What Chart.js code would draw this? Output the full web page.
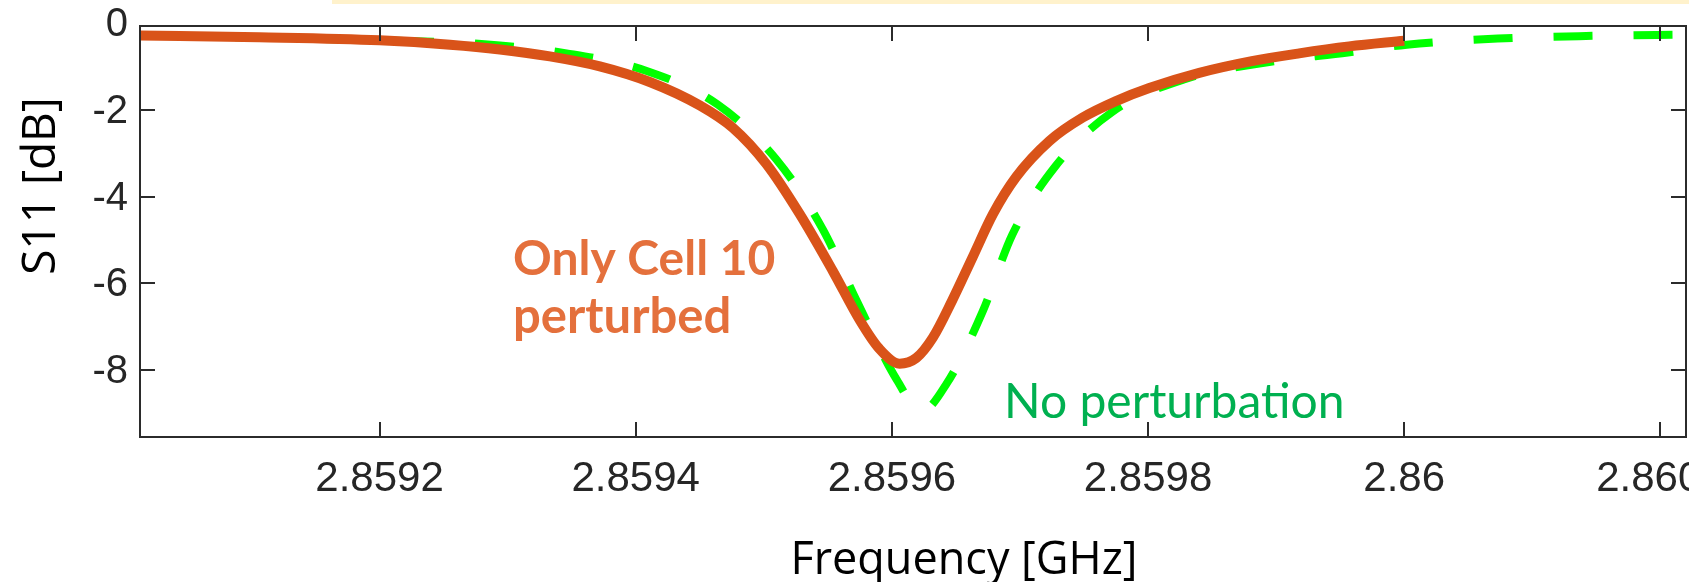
<!DOCTYPE html>
<html>
<head>
<meta charset="utf-8">
<script src="https://cdn.jsdelivr.net/npm/chart.js@4.4.0/dist/chart.umd.min.js"></script>
<style>
  html, body { margin: 0; padding: 0; background: #fff; }
  #wrap { width: 1689px; height: 582px; }
</style>
</head>
<body>
<div id="wrap"><canvas id="chart" width="1689" height="582"></canvas></div>
<script>
// S11 of the resonance, frequency in GHz, S11 in dB
const freqCell10 = [
    2.859013, 2.859106, 2.8592, 2.859255, 2.859294, 2.859333, 2.859372, 2.859411,
    2.85945, 2.859476, 2.859502, 2.859528, 2.859554, 2.859575, 2.85959, 2.859606,
    2.859619, 2.859632, 2.859647, 2.859663, 2.859679, 2.859697, 2.859723, 2.859749,
    2.859775, 2.859801, 2.85984, 2.859881, 2.859918, 2.859957, 2.86
];
const s11Cell10 = [
    -0.29, -0.33, -0.40, -0.50, -0.61, -0.77, -1.00, -1.36,
    -1.90, -2.42, -3.25, -4.40, -5.72, -6.85, -7.50, -7.85,
    -7.72, -7.25, -6.40, -5.40, -4.40, -3.55, -2.72, -2.18,
    -1.80, -1.50, -1.15, -0.88, -0.70, -0.54, -0.41
];

const freqNoPert = [
    2.859013, 2.8592, 2.859282, 2.859346, 2.859408, 2.859464, 2.85951, 2.859546,
    2.859573, 2.859604, 2.859623, 2.859643, 2.859671, 2.859694, 2.859728, 2.859772,
    2.859828, 2.859892, 2.859956, 2.860002, 2.860073, 2.860142, 2.86022
];
const s11NoPert = [
    -0.29, -0.40, -0.49, -0.70, -1.10, -1.88, -3.15, -4.75,
    -6.43, -8.23, -8.95, -8.30, -6.64, -4.88, -3.29, -2.05,
    -1.30, -0.91, -0.68, -0.50, -0.36, -0.30, -0.27
];

const xTickValues = [2.8592, 2.8594, 2.8596, 2.8598, 2.86, 2.8602];
const xTickLabels = ['2.8592', '2.8594', '2.8596', '2.8598', '2.86', '2.8602'];
const yTickValues = [-8, -6, -4, -2, 0];
const yTickLabels = ['-8', '-6', '-4', '-2', '0'];

const xRange = [2.859013, 2.86022];
const yRange = [-9.54, -0.07];

const AXIS_COLOR = '#2b2b2b';
const TICK_LEN = 15;

const decor = {
    id: 'decor',
    beforeDraw(chart) {
        const ctx = chart.ctx;
        ctx.save();
        ctx.fillStyle = '#ffffff';
        ctx.fillRect(0, 0, chart.width, chart.height);
        // pale band along the top edge
        ctx.fillStyle = '#FFF2CC';
        ctx.fillRect(332, 0, chart.width - 332, 4);
        ctx.restore();
    },
    afterDraw(chart) {
        const { ctx, chartArea: a, scales: { x, y } } = chart;
        ctx.save();

        // box + inward ticks, matlab style
        ctx.strokeStyle = AXIS_COLOR;
        ctx.lineWidth = 2;
        ctx.strokeRect(a.left, a.top, a.right - a.left, a.bottom - a.top);
        ctx.beginPath();
        xTickValues.forEach(v => {
            const px = Math.round(x.getPixelForValue(v));
            ctx.moveTo(px, a.bottom);
            ctx.lineTo(px, a.bottom - TICK_LEN);
            ctx.moveTo(px, a.top);
            ctx.lineTo(px, a.top + TICK_LEN);
        });
        yTickValues.forEach(v => {
            const py = Math.round(y.getPixelForValue(v));
            if (py < a.top || py > a.bottom) return;
            ctx.moveTo(a.left, py);
            ctx.lineTo(a.left + TICK_LEN, py);
            ctx.moveTo(a.right, py);
            ctx.lineTo(a.right - TICK_LEN, py);
        });
        ctx.stroke();

        // axis titles
        ctx.fillStyle = '#000000';
        ctx.font = '45px "Open Sans"';
        ctx.textAlign = 'center';
        ctx.textBaseline = 'alphabetic';
        ctx.fillText('Frequency [GHz]', 964, 574);

        ctx.save();
        ctx.translate(55, 186);
        ctx.rotate(-Math.PI / 2);
        ctx.font = '46px "Open Sans"';
        ctx.fillText('S11 [dB]', 0, 0);
        ctx.restore();

        // curve labels
        ctx.textAlign = 'left';
        ctx.font = 'bold 48px Lato';
        ctx.fillStyle = '#E4703C';
        ctx.fillText('Only Cell 10', 513, 275);
        ctx.font = 'bold 49px Lato';
        ctx.fillText('perturbed', 513, 333);

        ctx.font = '48px Lato';
        ctx.fillStyle = '#00B050';
        ctx.fillText('No perturbation', 1004, 418);

        ctx.restore();
    }
};

window.onload = function () {
    const ctx = document.getElementById('chart').getContext('2d');
    new Chart(ctx, {
        type: 'line',
        data: {
            datasets: [
                {
                    label: 'Only Cell 10 perturbed',
                    data: freqCell10.map((f, i) => ({ x: f, y: s11Cell10[i] })),
                    borderColor: '#D95319',
                    borderWidth: 10,
                    pointRadius: 0,
                    cubicInterpolationMode: 'monotone',
                    fill: false,
                },
                {
                    label: 'No perturbation',
                    data: freqNoPert.map((f, i) => ({ x: f, y: s11NoPert[i] })),
                    borderColor: '#00FF00',
                    borderWidth: 8,
                    borderDash: [39, 41],
                    borderDashOffset: -15,
                    pointRadius: 0,
                    cubicInterpolationMode: 'monotone',
                    fill: false,
                },
            ],
        },
        options: {
            responsive: false,
            animation: false,
            devicePixelRatio: 1,
            layout: { padding: { top: 26, right: 3, left: 0, bottom: 0 } },
            plugins: {
                legend: { display: false },
                tooltip: { enabled: false },
            },
            scales: {
                x: {
                    type: 'linear',
                    min: xRange[0],
                    max: xRange[1],
                    grid: { display: false, drawTicks: false },
                    border: { display: false },
                    afterBuildTicks: (scale) => {
                        scale.ticks = xTickValues.map(v => ({ value: v }));
                    },
                    afterFit: (scale) => {
                        scale.height = 145;
                        scale.paddingLeft = 0;
                        scale.paddingRight = 0;
                    },
                    ticks: {
                        autoSkip: false,
                        maxRotation: 0,
                        padding: 17,
                        color: '#262626',
                        font: { family: '"Liberation Sans"', size: 42 },
                        callback: (v, i) => xTickLabels[i],
                    },
                },
                y: {
                    type: 'linear',
                    min: yRange[0],
                    max: yRange[1],
                    grid: { display: false, drawTicks: false },
                    border: { display: false },
                    afterBuildTicks: (scale) => {
                        scale.ticks = yTickValues.map(v => ({ value: v }));
                    },
                    afterFit: (scale) => {
                        scale.width = 140;
                        scale.paddingTop = 0;
                        scale.paddingBottom = 0;
                    },
                    ticks: {
                        padding: 12,
                        labelOffset: 2,
                        color: '#262626',
                        font: { family: '"Liberation Sans"', size: 40 },
                        callback: (v, i) => yTickLabels[i],
                    },
                },
            },
        },
        plugins: [decor],
    });
};
</script>
</body>
</html>
